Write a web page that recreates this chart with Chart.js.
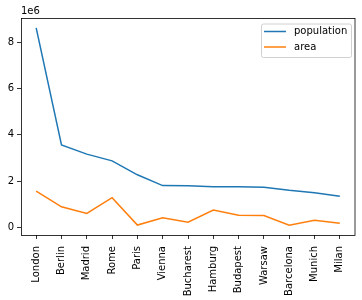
<!DOCTYPE html>
<html lang="en">

<head>
    <meta charset="UTF-8">
    <title>Population and area</title>
    <script src="https://cdn.jsdelivr.net/npm/chart.js"></script>
    <style>
        body {
            margin: 0;
            background-color: white;
        }

        canvas {
            display: block;
        }
    </style>
</head>

<body>
    <canvas id="cityChart" width="362" height="300"></canvas>

    <script>
        const cities = ['London', 'Berlin', 'Madrid', 'Rome', 'Paris', 'Vienna', 'Bucharest',
            'Hamburg', 'Budapest', 'Warsaw', 'Barcelona', 'Munich', 'Milan'];
        const population = [8615000, 3562000, 3165000, 2874000, 2273000, 1806000, 1803000,
            1760000, 1754000, 1740000, 1602000, 1494000, 1351000];
        const area = [1572000, 891000, 606000, 1285000, 105000, 414000, 228000,
            755000, 525000, 517000, 101000, 310000, 181000];
        const yTicks = [0, 2e6, 4e6, 6e6, 8e6];

        const font = { family: 'DejaVu Sans', size: 10 };

        // frame, offset label and legend box like matplotlib
        const framePlugin = {
            id: 'frame',
            afterDraw(chart) {
                const c = chart.ctx;
                const a = chart.chartArea;
                c.save();
                c.strokeStyle = '#000';
                c.lineWidth = 0.8;
                c.strokeRect(a.left + 0.5, a.top + 0.5, a.right - a.left - 0.5, a.bottom - a.top);

                c.fillStyle = '#000';
                c.font = '10px "DejaVu Sans"';
                c.textAlign = 'left';
                c.textBaseline = 'bottom';
                c.fillText('1e6', a.left, a.top - 2);

                // legend
                const bx = a.right - 94, by = a.top + 5.5, bw = 90, bh = 33.5;
                c.fillStyle = 'rgba(255,255,255,0.8)';
                c.strokeStyle = '#d0d0d0';
                c.lineWidth = 1;
                c.beginPath();
                c.roundRect(bx + 0.5, by + 0.5, bw, bh, 2);
                c.fill();
                c.stroke();
                chart.data.datasets.forEach((ds, i) => {
                    const y = by + 8 + i * 15.5;
                    c.strokeStyle = ds.borderColor;
                    c.lineWidth = 1.5;
                    c.beginPath();
                    c.moveTo(bx + 3, y);
                    c.lineTo(bx + 25, y);
                    c.stroke();
                    c.fillStyle = '#000';
                    c.textBaseline = 'middle';
                    c.fillText(ds.label, bx + 33, y);
                });
                c.restore();
            }
        };

        const ctx = document.getElementById('cityChart').getContext('2d');

        new Chart(ctx, {
            type: 'line',
            data: {
                datasets: [{
                    label: 'population',
                    data: population.map((v, i) => ({ x: i, y: v })),
                    borderColor: '#1f77b4',
                    borderWidth: 1.5,
                    pointRadius: 0,
                    tension: 0
                }, {
                    label: 'area',
                    data: area.map((v, i) => ({ x: i, y: v })),
                    borderColor: '#ff7f0e',
                    borderWidth: 1.5,
                    pointRadius: 0,
                    tension: 0
                }]
            },
            options: {
                responsive: false,
                animation: false,
                layout: { padding: { top: 18, right: 7, left: 0, bottom: 0 } },
                scales: {
                    x: {
                        type: 'linear',
                        min: -0.6,
                        max: 12.6,
                        afterBuildTicks: s => { s.ticks = cities.map((c, i) => ({ value: i })); },
                        afterFit: s => {
                            s.height = 65;
                            s.paddingLeft = 0;
                            s.paddingRight = 0;
                        },
                        grid: { drawOnChartArea: false, tickLength: 4, tickColor: '#000', tickWidth: 0.8 },
                        border: { display: false },
                        ticks: {
                            font: font,
                            color: '#000',
                            padding: 7,
                            minRotation: 90,
                            maxRotation: 90,
                            autoSkip: false,
                            callback: v => cities[v]
                        }
                    },
                    y: {
                        min: -325000,
                        max: 9040000,
                        afterBuildTicks: s => { s.ticks = yTicks.map(v => ({ value: v })); },
                        afterFit: s => {
                            s.width = 21;
                            s.paddingTop = 0;
                            s.paddingBottom = 0;
                        },
                        grid: { drawOnChartArea: false, tickLength: 4, tickColor: '#000', tickWidth: 0.8 },
                        border: { display: false },
                        ticks: {
                            font: font,
                            color: '#000',
                            padding: 3,
                            callback: v => v / 1e6
                        }
                    }
                },
                plugins: {
                    legend: { display: false },
                    tooltip: { enabled: false }
                }
            },
            plugins: [framePlugin]
        });
    </script>
</body>

</html>
